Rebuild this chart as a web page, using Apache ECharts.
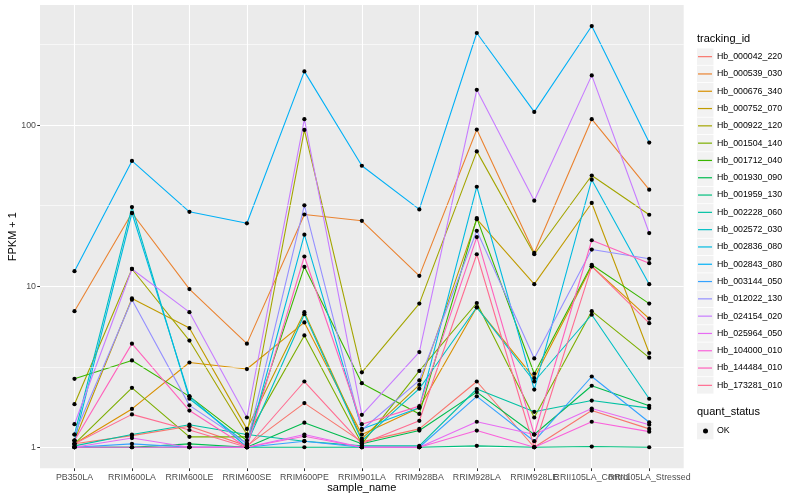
<!DOCTYPE html>
<html><head><meta charset="utf-8">
<script src="https://cdn.jsdelivr.net/npm/echarts@6/dist/echarts.min.js"></script>
<style>html,body{margin:0;padding:0;background:#fff}#c{width:800px;height:500px}</style>
</head><body><div id="c"></div>
<script>
const categories = ['PB350LA','RRIM600LA','RRIM600LE','RRIM600SE','RRIM600PE','RRIM901LA','RRIM928BA','RRIM928LA','RRIM928LE','RRII105LA_Control','RRII105LA_Stressed'];
const trackingIds = ['Hb_000042_220','Hb_000539_030','Hb_000676_340','Hb_000752_070','Hb_000922_120','Hb_001504_140','Hb_001712_040','Hb_001930_090','Hb_001959_130','Hb_002228_060','Hb_002572_030','Hb_002836_080','Hb_002843_080','Hb_003144_050','Hb_012022_130','Hb_024154_020','Hb_025964_050','Hb_104000_010','Hb_144484_010','Hb_173281_010'];
const colors = ['#F8766D','#EA8331','#D89000','#C09B00','#A3A500','#7CAE00','#39B600','#00BB4E','#00BF7D','#00C1A3','#00BFC4','#00BAE0','#00B0F6','#35A2FF','#9590FF','#C77CFF','#E76BF3','#FA62DB','#FF62BC','#FF6C91'];

const hb000042_220 = [1.05, 1.18, 1.35, 1.02, 1.88, 1.08, 1.30, 2.56, 1.00, 1.69, 1.30];
const hb000539_030 = [7.0, 28.5, 9.6, 4.4, 27.9, 25.5, 11.6, 94, 16.1, 109, 39.8];
const hb000676_340 = [1.05, 1.73, 3.36, 3.06, 5.96, 1.2, 1.76, 7.4, 2.69, 13.3, 6.3];
const hb000752_070 = [1.1, 8.4, 5.5, 1.3, 6.9, 1.13, 2.44, 26.1, 10.3, 32.9, 3.85];
const hb000922_120 = [1.85, 12.8, 4.6, 1.2, 93.5, 2.92, 7.8, 68.8, 15.8, 48.7, 27.8];
const hb001504_140 = [1.05, 2.34, 1.16, 1.16, 4.95, 1.05, 2.98, 7.87, 1.53, 7.0, 3.6];
const hb001712_040 = [2.66, 3.46, 2.07, 1.1, 13.2, 2.5, 1.61, 26.5, 2.86, 13.6, 7.8];
const hb001930_090 = [1.0, 1.0, 1.05, 1.0, 1.42, 1.05, 1.27, 2.2, 1.2, 2.41, 1.81];
const hb001959_130 = [1.0, 1.0, 1.0, 1.0, 1.0, 1.0, 1.0, 1.02, 1.0, 1.01, 1.0];
const hb002228_060 = [1.02, 1.2, 1.38, 1.2, 1.09, 1.02, 1.02, 2.3, 1.66, 1.95, 1.75];
const hb002572_030 = [1.2, 31, 2.0, 1.05, 6.7, 1.1, 2.31, 7.4, 2.56, 6.65, 2.0];
const hb002836_080 = [1.1, 28.5, 2.07, 1.0, 20.9, 1.3, 1.76, 41.5, 2.28, 45.9, 10.3];
const hb002843_080 = [12.4, 60, 29, 24.6, 216, 56, 30, 374, 121, 413, 78];
const hb003144_050 = [1.0, 1.05, 1.0, 1.0, 1.09, 1.0, 1.0, 2.07, 1.09, 2.75, 1.43];
const hb012022_130 = [1.2, 8.25, 1.82, 1.05, 31.8, 1.28, 2.6, 22.1, 3.56, 16.9, 14.8];
const hb024154_020 = [1.39, 12.8, 6.9, 1.53, 109, 1.59, 3.9, 166, 34, 204, 21.4];
const hb025964_050 = [1.0, 1.14, 1.0, 1.0, 1.2, 1.0, 1.0, 1.44, 1.2, 1.74, 1.38];
const hb104000_010 = [1.0, 1.0, 1.0, 1.0, 1.17, 1.0, 1.0, 1.27, 1.0, 1.44, 1.25];
const hb144484_010 = [1.1, 4.4, 1.69, 1.0, 15.3, 1.39, 1.8, 20.2, 1.2, 19.3, 13.9];
const hb173281_010 = [1.05, 1.6, 1.28, 1.0, 2.56, 1.05, 1.46, 15.8, 1.0, 13.3, 5.9];

const seriesValues = [hb000042_220, hb000539_030, hb000676_340, hb000752_070, hb000922_120, hb001504_140, hb001712_040, hb001930_090, hb001959_130, hb002228_060, hb002572_030, hb002836_080, hb002843_080, hb003144_050, hb012022_130, hb024154_020, hb025964_050, hb104000_010, hb144484_010, hb173281_010];

const yTicks = [1, 10, 100];
const yMinorTicks = [3.1623, 31.623, 316.23];

const FONT = '"Liberation Sans", Arial, Helvetica, sans-serif';
const catIdx = categories.map((c, i) => i);
const evenIdx = catIdx.filter(i => i % 2 === 0);
const oddIdx = catIdx.filter(i => i % 2 === 1);
const allVals = seriesValues.flat();
const lo = Math.log10(Math.min(...allVals)), hi = Math.log10(Math.max(...allVals));
const pad = (hi - lo) * 0.05;
const yMin = Math.pow(10, lo - pad), yMax = Math.pow(10, hi + pad);
const xMin = -0.6, xMax = categories.length - 1 + 0.6;

const series = trackingIds.map((id, k) => ({
  name: id, type: 'line', xAxisIndex: 0,
  data: seriesValues[k].map((v, i) => [i, v]),
  symbol: 'none', showSymbol: false,
  lineStyle: { color: colors[k], width: 1.1 },
  itemStyle: { color: colors[k] },
  z: 3, silent: true, animation: false
}));
const points = [];
seriesValues.forEach(arr => arr.forEach((v, i) => points.push([i, v])));
series.push({
  name: 'OK', type: 'scatter', xAxisIndex: 0, data: points, symbol: 'circle', symbolSize: 4.2,
  itemStyle: { color: '#000000', opacity: 1 }, z: 5, silent: true, animation: false
});
series.push({
  name: '_minor', type: 'line', xAxisIndex: 0, data: [], z: 1, silent: true, animation: false,
  markLine: {
    silent: true, symbol: ['none', 'none'], label: { show: false }, animation: false,
    lineStyle: { color: '#ffffff', width: 0.6, type: 'solid' },
    data: yMinorTicks.map(v => ({ yAxis: v }))
  }
});

const keyTop = 48, keyH = 17.3, keyLeft = 697;
const graphics = trackingIds.map((id, i) => ({
  type: 'rect', z: 0, silent: true,
  shape: { x: keyLeft, y: keyTop + keyH * i + 0.4, width: 16.5, height: keyH - 0.8 },
  style: { fill: '#F2F2F2' }
}));
graphics.push({
  type: 'rect', z: 0, silent: true,
  shape: { x: keyLeft, y: 422.4 + 0.4, width: 16.5, height: keyH - 0.8 },
  style: { fill: '#F2F2F2' }
});

const labelStyle = { color: '#4D4D4D', fontSize: 8.8, fontFamily: FONT, margin: 5, hideOverlap: false, showMinLabel: true, showMaxLabel: true };

const chart = echarts.init(document.getElementById('c'));
chart.setOption({
  backgroundColor: '#ffffff',
  animation: false,
  textStyle: { fontFamily: FONT },
  title: [
    { text: 'tracking_id', left: keyLeft, top: 33, padding: 0, textStyle: { fontSize: 11, fontWeight: 'normal', color: '#000', fontFamily: FONT } },
    { text: 'quant_status', left: keyLeft, top: 406, padding: 0, textStyle: { fontSize: 11, fontWeight: 'normal', color: '#000', fontFamily: FONT } }
  ],
  grid: { left: 40, right: 116.3, top: 5, bottom: 31.7, show: true, backgroundColor: '#EBEBEB', borderWidth: 0, containLabel: false, outerBoundsMode: 'none' },
  graphic: graphics,
  legend: [
    {
      data: trackingIds, orient: 'vertical', left: 698, top: keyTop, padding: 0, itemGap: 0,
      icon: 'rect', itemWidth: 14, itemHeight: 1.2, selectedMode: false,
      textStyle: { fontSize: 8.8, color: '#000', fontFamily: FONT, lineHeight: keyH }
    },
    {
      data: ['OK'], orient: 'vertical', left: 703, top: 422.4, padding: 0, itemGap: 0,
      icon: 'circle', itemWidth: 5, itemHeight: 5, selectedMode: false,
      textStyle: { fontSize: 8.8, color: '#000', fontFamily: FONT, lineHeight: keyH, padding: [0, 0, 0, 4] }
    }
  ],
  xAxis: [
    {
      type: 'value', min: xMin, max: xMax, position: 'bottom',
      axisLine: { show: false, onZero: false },
      axisTick: { show: true, length: 2.75, lineStyle: { color: '#333333', width: 1 }, customValues: catIdx },
      axisLabel: Object.assign({ customValues: evenIdx, formatter: v => categories[Math.round(v)] || '' }, labelStyle),
      splitLine: { show: true, lineStyle: { color: '#ffffff', width: 1.1 } },
      name: 'sample_name', nameLocation: 'middle', nameGap: 14, nameMoveOverlap: false,
      nameTextStyle: { fontSize: 11, color: '#000', fontFamily: FONT }
    },
    {
      type: 'value', min: xMin, max: xMax, position: 'bottom', offset: 0,
      axisLine: { show: false, onZero: false },
      axisTick: { show: false },
      axisLabel: Object.assign({ customValues: oddIdx, formatter: v => categories[Math.round(v)] || '' }, labelStyle),
      splitLine: { show: false }
    }
  ],
  yAxis: {
    type: 'log', logBase: 10, min: yMin, max: yMax,
    axisLine: { show: false, onZero: false },
    axisTick: { show: true, length: 2.75, lineStyle: { color: '#333333', width: 1 }, customValues: yTicks },
    axisLabel: { customValues: yTicks, formatter: v => String(Math.round(v)), color: '#4D4D4D', fontSize: 8.8, fontFamily: FONT, margin: 4, showMinLabel: true, showMaxLabel: true },
    splitLine: { show: true, lineStyle: { color: '#ffffff', width: 1.1 } },
    minorSplitLine: { show: false },
    name: 'FPKM + 1', nameLocation: 'middle', nameGap: 22, nameRotate: 90, nameMoveOverlap: false,
    nameTextStyle: { fontSize: 11, color: '#000', fontFamily: FONT }
  },
  series: series
});
</script>
</body></html>
